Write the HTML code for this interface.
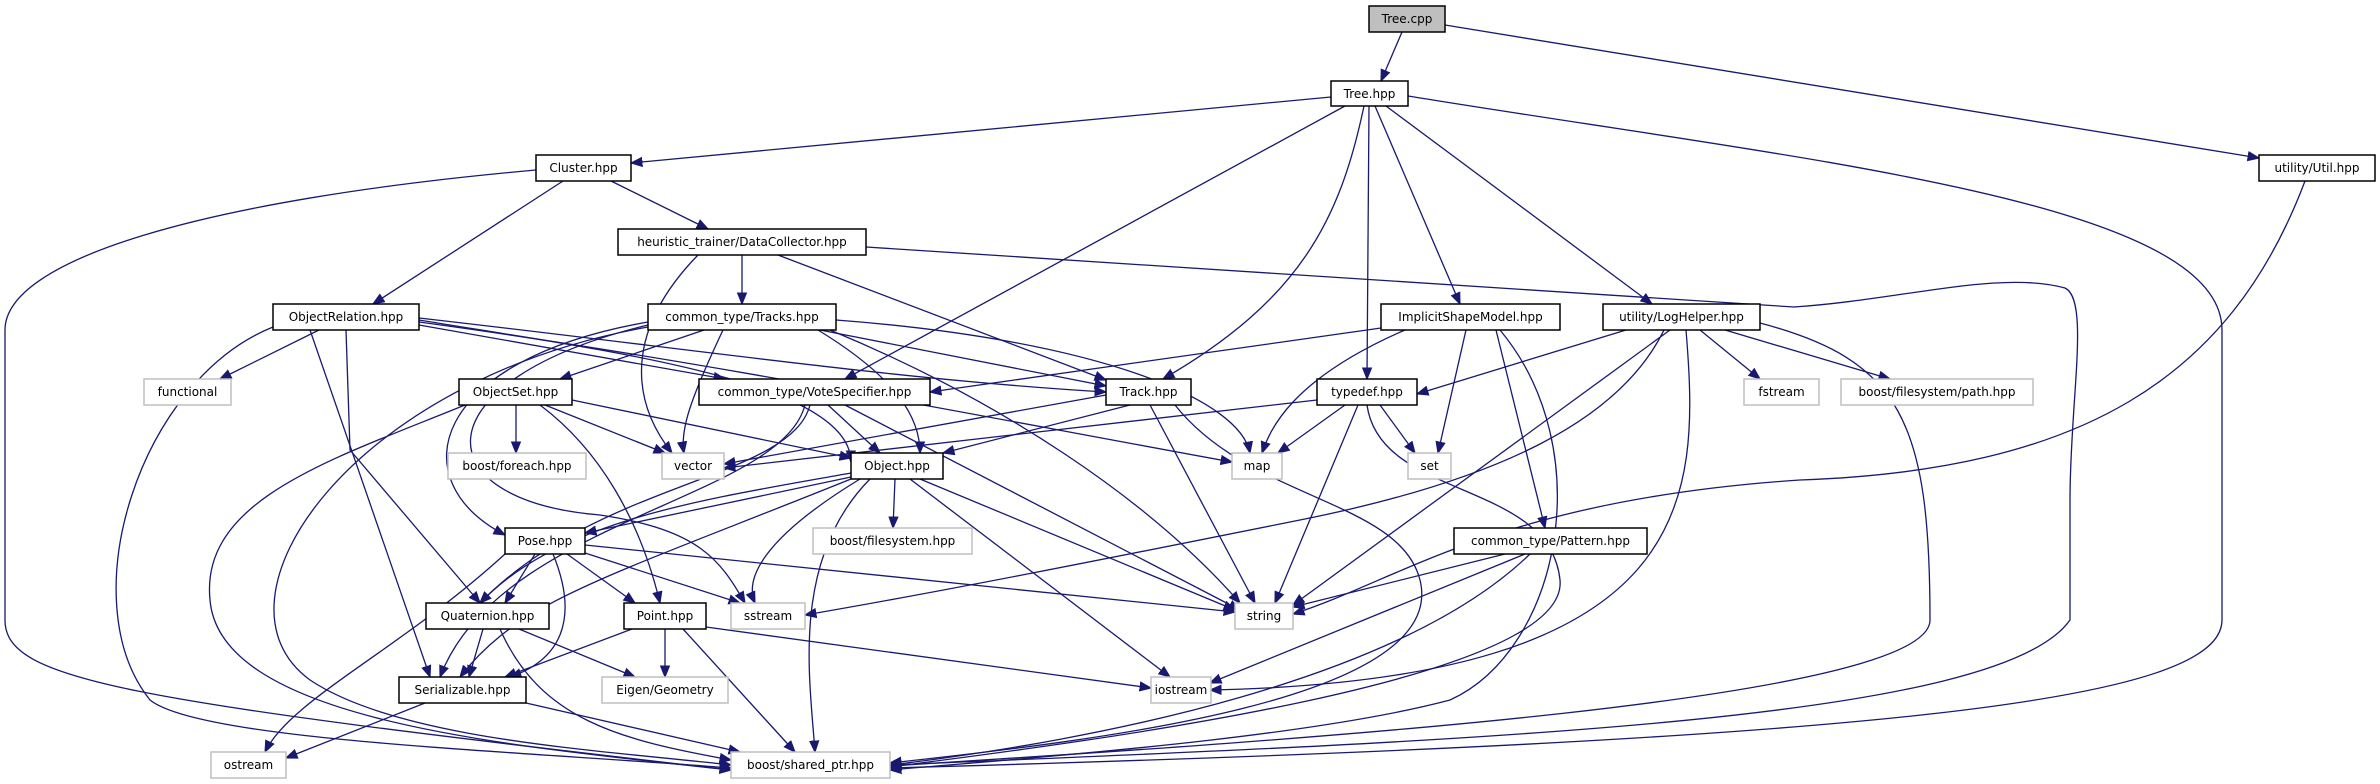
<!DOCTYPE html>
<html><head><meta charset="utf-8"><style>
html,body{margin:0;padding:0;background:#fff;}
svg{display:block;}
text{font-family:"DejaVu Sans","Liberation Sans",sans-serif;font-size:12px;fill:#000;}
.e{fill:none;stroke:#191970;stroke-width:1.3;marker-end:url(#a);}
.n{fill:#fff;stroke:#000;stroke-width:1.5;}
.g{fill:#fff;stroke:#bfbfbf;stroke-width:1.5;}
</style></head><body>
<svg width="2380" height="784" viewBox="0 0 2380 784" xmlns="http://www.w3.org/2000/svg">
<defs><marker id="a" viewBox="0 0 10 10" refX="10" refY="5" markerWidth="12" markerHeight="11" markerUnits="userSpaceOnUse" orient="auto"><path d="M0,1 L10,5 L0,9 z" fill="#191970" stroke="#191970"/></marker></defs>
<g>
<path class="e" d="M1402,32 L1381,81"/>
<path class="e" d="M1445,25 L2259,158"/>
<path class="e" d="M1331,97 L631,163"/>
<path class="e" d="M1345,106 L845,379"/>
<path class="e" d="M1364,106 C1340,220 1300,300 1163,379"/>
<path class="e" d="M1369,106 L1367,379"/>
<path class="e" d="M1375,106 L1460,304"/>
<path class="e" d="M1386,106 L1652,304"/>
<path class="e" d="M1408,96 C1800,160 2222,200 2222,330 L2222,620 C2222,700 1900,740 890,768"/>
<path class="e" d="M2305,181 C2230,380 2080,470 1800,480 C1500,500 1400,580 1293,614"/>
<path class="e" d="M536,170 C200,200 5,260 5,330 L5,620 C5,680 120,700 731,770"/>
<path class="e" d="M563,181 L373,304"/>
<path class="e" d="M611,181 L708,229"/>
<path class="e" d="M742,255 L742,304"/>
<path class="e" d="M778,255 L1106,380"/>
<path class="e" d="M698,255 C625,330 630,400 672,453"/>
<path class="e" d="M866,247 L1794,307 C1900,300 2000,270 2065,288 C2090,300 2070,400 2070,500 L2070,620 C2000,720 1500,740 890,765"/>
<path class="e" d="M319,330 L220,379"/>
<path class="e" d="M419,325 L725,379"/>
<path class="e" d="M419,318 C700,350 900,380 1106,392"/>
<path class="e" d="M419,322 C700,360 1000,420 1232,462"/>
<path class="e" d="M419,320 C600,350 850,380 851,462"/>
<path class="e" d="M346,330 L350,450 L480,603"/>
<path class="e" d="M310,330 L430,677"/>
<path class="e" d="M273,327 C140,380 70,600 150,700 C200,740 500,750 731,768"/>
<path class="e" d="M704,330 L560,379"/>
<path class="e" d="M820,330 L1106,386"/>
<path class="e" d="M723,330 C690,400 680,430 684,453"/>
<path class="e" d="M836,320 C1100,340 1240,400 1250,453"/>
<path class="e" d="M830,330 C1000,400 1150,500 1240,603"/>
<path class="e" d="M818,330 C900,380 920,420 920,453"/>
<path class="e" d="M648,322 C430,360 400,480 505,535"/>
<path class="e" d="M648,325 C420,380 420,500 600,515 C700,530 720,560 745,603"/>
<path class="e" d="M648,327 C350,380 200,600 310,680 C400,740 600,750 731,765"/>
<path class="e" d="M828,405 L880,453"/>
<path class="e" d="M845,405 L1240,610"/>
<path class="e" d="M810,405 C790,480 600,480 480,603"/>
<path class="e" d="M805,405 C780,500 500,520 440,677"/>
<path class="e" d="M1106,395 L724,464"/>
<path class="e" d="M1130,405 L943,453"/>
<path class="e" d="M1150,405 L1255,603"/>
<path class="e" d="M1175,405 C1250,500 1400,500 1420,580 C1450,700 1100,740 890,763"/>
<path class="e" d="M516,405 L516,453"/>
<path class="e" d="M545,405 L665,453"/>
<path class="e" d="M572,400 L851,458"/>
<path class="e" d="M540,405 C600,450 640,520 660,603"/>
<path class="e" d="M465,405 C330,460 200,500 210,600 C220,720 500,745 731,770"/>
<path class="e" d="M1381,328 L930,392"/>
<path class="e" d="M1405,330 C1290,380 1270,430 1262,453"/>
<path class="e" d="M1466,330 L1438,453"/>
<path class="e" d="M1496,330 L1545,528"/>
<path class="e" d="M1500,330 C1600,450 1560,650 1450,700 C1300,740 1000,760 890,770"/>
<path class="e" d="M1626,330 L1417,394"/>
<path class="e" d="M1664,330 C1620,420 1500,480 1300,520 C1100,560 950,590 805,615"/>
<path class="e" d="M1670,330 L1293,605"/>
<path class="e" d="M1686,330 C1700,500 1700,680 1210,690"/>
<path class="e" d="M1700,330 L1760,379"/>
<path class="e" d="M1725,330 L1890,379"/>
<path class="e" d="M1760,323 C1900,360 1930,420 1930,620 C1930,700 1300,740 890,766"/>
<path class="e" d="M1317,400 L724,468"/>
<path class="e" d="M1345,405 L1278,453"/>
<path class="e" d="M1380,405 L1415,453"/>
<path class="e" d="M1358,405 L1275,603"/>
<path class="e" d="M1367,405 C1380,500 1550,480 1560,580 C1570,680 1100,740 890,767"/>
<path class="e" d="M851,477 L585,533"/>
<path class="e" d="M895,479 L893,528"/>
<path class="e" d="M860,479 C760,540 745,580 755,603"/>
<path class="e" d="M920,479 L1235,610"/>
<path class="e" d="M910,479 L1170,677"/>
<path class="e" d="M870,479 C790,560 810,680 815,752"/>
<path class="e" d="M851,473 C700,500 560,520 480,603"/>
<path class="e" d="M851,479 C600,580 520,600 460,677"/>
<path class="e" d="M535,554 L505,603"/>
<path class="e" d="M567,554 L635,603"/>
<path class="e" d="M585,553 L740,603"/>
<path class="e" d="M585,545 L1235,612"/>
<path class="e" d="M553,554 C580,620 560,660 510,677"/>
<path class="e" d="M505,554 C400,650 290,700 265,752"/>
<path class="e" d="M483,629 L469,677"/>
<path class="e" d="M519,629 L635,677"/>
<path class="e" d="M500,629 C540,720 620,740 731,760"/>
<path class="e" d="M632,629 L505,677"/>
<path class="e" d="M665,629 L665,677"/>
<path class="e" d="M683,629 L795,752"/>
<path class="e" d="M706,627 L1151,688"/>
<path class="e" d="M425,703 L286,758"/>
<path class="e" d="M526,703 L740,752"/>
<path class="e" d="M1505,554 L1293,607"/>
<path class="e" d="M1525,554 L1210,683"/>
<path class="e" d="M1530,554 C1400,680 1100,740 890,765"/>
</g>
<g>
<rect x="1369" y="6" width="76" height="26" fill="#bfbfbf" stroke="#000" stroke-width="1.5"/><text x="1407" y="23" text-anchor="middle">Tree.cpp</text>
<rect class="n" x="1331" y="81" width="77" height="25"/><text x="1369.5" y="98" text-anchor="middle">Tree.hpp</text>
<rect class="n" x="2259" y="155" width="116" height="26"/><text x="2317" y="172" text-anchor="middle">utility/Util.hpp</text>
<rect class="n" x="536" y="155" width="95" height="26"/><text x="583.5" y="172" text-anchor="middle">Cluster.hpp</text>
<rect class="n" x="618" y="229" width="248" height="26"/><text x="742" y="246" text-anchor="middle">heuristic_trainer/DataCollector.hpp</text>
<rect class="n" x="273" y="304" width="146" height="26"/><text x="346" y="321" text-anchor="middle">ObjectRelation.hpp</text>
<rect class="n" x="648" y="304" width="188" height="26"/><text x="742" y="321" text-anchor="middle">common_type/Tracks.hpp</text>
<rect class="n" x="1381" y="304" width="179" height="26"/><text x="1470.5" y="321" text-anchor="middle">ImplicitShapeModel.hpp</text>
<rect class="n" x="1603" y="304" width="157" height="26"/><text x="1681.5" y="321" text-anchor="middle">utility/LogHelper.hpp</text>
<rect class="g" x="144" y="379" width="87" height="26"/><text x="187.5" y="396" text-anchor="middle">functional</text>
<rect class="n" x="459" y="379" width="113" height="26"/><text x="515.5" y="396" text-anchor="middle">ObjectSet.hpp</text>
<rect class="n" x="699" y="379" width="231" height="26"/><text x="814.5" y="396" text-anchor="middle">common_type/VoteSpecifier.hpp</text>
<rect class="n" x="1106" y="379" width="85" height="26"/><text x="1148.5" y="396" text-anchor="middle">Track.hpp</text>
<rect class="n" x="1317" y="379" width="100" height="26"/><text x="1367" y="396" text-anchor="middle">typedef.hpp</text>
<rect class="g" x="1744" y="379" width="75" height="26"/><text x="1781.5" y="396" text-anchor="middle">fstream</text>
<rect class="g" x="1841" y="379" width="192" height="26"/><text x="1937" y="396" text-anchor="middle">boost/filesystem/path.hpp</text>
<rect class="g" x="448" y="453" width="138" height="26"/><text x="517" y="470" text-anchor="middle">boost/foreach.hpp</text>
<rect class="g" x="662" y="453" width="62" height="26"/><text x="693" y="470" text-anchor="middle">vector</text>
<rect class="n" x="851" y="453" width="92" height="26"/><text x="897" y="470" text-anchor="middle">Object.hpp</text>
<rect class="g" x="1232" y="453" width="50" height="26"/><text x="1257" y="470" text-anchor="middle">map</text>
<rect class="g" x="1408" y="453" width="43" height="26"/><text x="1429.5" y="470" text-anchor="middle">set</text>
<rect class="n" x="505" y="528" width="80" height="26"/><text x="545" y="545" text-anchor="middle">Pose.hpp</text>
<rect class="g" x="813" y="528" width="159" height="26"/><text x="892.5" y="545" text-anchor="middle">boost/filesystem.hpp</text>
<rect class="n" x="1454" y="528" width="193" height="26"/><text x="1550.5" y="545" text-anchor="middle">common_type/Pattern.hpp</text>
<rect class="n" x="426" y="603" width="123" height="26"/><text x="487.5" y="620" text-anchor="middle">Quaternion.hpp</text>
<rect class="n" x="624" y="603" width="82" height="26"/><text x="665" y="620" text-anchor="middle">Point.hpp</text>
<rect class="g" x="731" y="603" width="74" height="26"/><text x="768" y="620" text-anchor="middle">sstream</text>
<rect class="g" x="1235" y="603" width="58" height="26"/><text x="1264" y="620" text-anchor="middle">string</text>
<rect class="n" x="399" y="677" width="127" height="26"/><text x="462.5" y="694" text-anchor="middle">Serializable.hpp</text>
<rect class="g" x="602" y="677" width="126" height="26"/><text x="665" y="694" text-anchor="middle">Eigen/Geometry</text>
<rect class="g" x="1151" y="677" width="60" height="26"/><text x="1181" y="694" text-anchor="middle">iostream</text>
<rect class="g" x="211" y="752" width="75" height="26"/><text x="248.5" y="769" text-anchor="middle">ostream</text>
<rect class="g" x="731" y="752" width="159" height="26"/><text x="810.5" y="769" text-anchor="middle">boost/shared_ptr.hpp</text>
</g>
</svg>
</body></html>
